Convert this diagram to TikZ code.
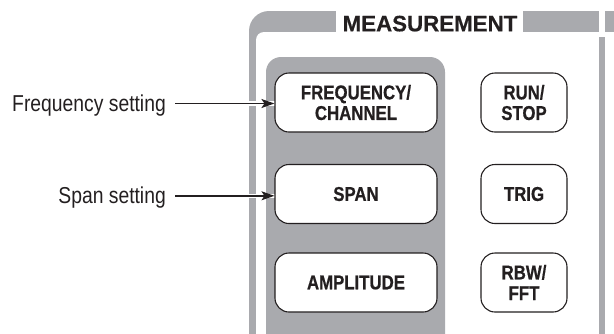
\documentclass[tikz,border=0pt]{standalone}
\usepackage{fontspec}
\newfontfamily\condfont{Liberation Sans}[FakeStretch=0.84]
\newfontfamily\condbold{Liberation Sans Bold}[FakeStretch=0.84, FakeBold=0.6]
\newfontfamily\regbold{Liberation Sans Bold}[FakeBold=0.4]
\usetikzlibrary{arrows.meta}
\definecolor{bandgray}{RGB}{169,170,174}
\definecolor{ink}{RGB}{35,31,32}
\tikzset{
  btn/.style={draw=ink, line width=1.1pt, fill=white, rounded corners=14pt, align=center,
    text=ink, inner sep=0pt, font=\condbold\fontsize{20}{20.6}\selectfont},
  widebtn/.style={btn, minimum width=162pt, minimum height=59pt},
  narrowbtn/.style={btn, minimum width=86pt, minimum height=59pt},
  lab/.style={text=ink, inner sep=0pt, font=\condfont\fontsize{23}{26}\selectfont},
  arr/.style={draw=ink, line width=1.4pt, -{Stealth[length=13pt,width=9pt,inset=3pt]}},
  halo/.style={draw=white, line width=4.5pt}
}
\begin{document}
\begin{tikzpicture}[x=1pt,y=-1pt]
\useasboundingbox (0,0) rectangle (614,333);
% outer frame
\fill[bandgray, rounded corners=20pt] (249,11) rectangle (300,360);
\fill[bandgray] (280,11) rectangle (336,32);
\fill[white, rounded corners=8pt] (256,32) rectangle (350,360);
\fill[bandgray] (523,11) rectangle (598.5,32);
\fill[bandgray] (605,11) rectangle (614,32);
\fill[bandgray] (598.5,36.5) rectangle (605,345);
\node[anchor=base, font=\regbold\fontsize{22.3}{24}\selectfont, text=ink, inner sep=0pt] (meas) at (430,31.3) {MEASUREMENT};
% inner group panel
\fill[bandgray, rounded corners=15pt] (266,57) rectangle (445,360);
% labels
\node[lab, anchor=base east] (fl) at (166,111.7) {Frequency setting};
\node[lab, anchor=base east] (sl) at (166,203.3) {Span setting};
\coordinate (hs) at (243,0);
\coordinate (he) at (276,0);
\draw[halo] ([yshift=8.2pt]fl.base east -| hs) -- ([yshift=8.2pt]fl.base east -| he);
\draw[halo] ([yshift=7.5pt]sl.base east -| hs) -- ([yshift=7.5pt]sl.base east -| he);
% buttons
\node[widebtn] (fq) at (356,102.5) {FREQUENCY/\\CHANNEL};
\node[widebtn] (sp) at (356,194) {SPAN};
\node[widebtn] (am) at (356,282.5) {AMPLITUDE};
\node[narrowbtn] (rs) at (524,102.5) {RUN/\\STOP};
\node[narrowbtn] (tr) at (524,194) {TRIG};
\node[narrowbtn] (rb) at (524,282.5) {RBW/\\FFT};
% arrows
\draw[arr] ([xshift=9pt,yshift=8.2pt]fl.base east) -- ([yshift=8.2pt]fl.base east -| fq.west);
\draw[arr] ([xshift=9pt,yshift=7.5pt]sl.base east) -- ([yshift=7.5pt]sl.base east -| sp.west);
\end{tikzpicture}
\end{document}
